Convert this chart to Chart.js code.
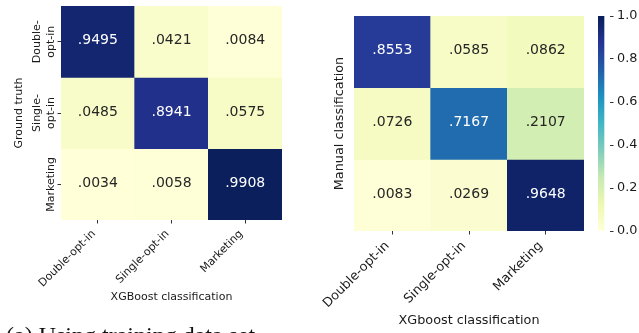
<!DOCTYPE html>
<html>
<head>
<meta charset="utf-8">
<title>Confusion matrices</title>
<script src="https://cdn.jsdelivr.net/npm/chart.js@4.4.1/dist/chart.umd.min.js"></script>
<style>
  html, body { margin: 0; padding: 0; background: #fff; width: 639px; height: 333px; overflow: hidden; }
  canvas { position: absolute; left: 0; top: 0; }
  #caption {
    position: absolute; left: 6px; top: 322.5px;
    font-family: "Liberation Serif", serif; font-size: 24px; line-height: 24px;
    color: #111; white-space: nowrap;
  }
</style>
</head>
<body>
<canvas id="truthChart" width="639" height="333"></canvas>
<canvas id="manualChart" width="639" height="333"></canvas>
<canvas id="colorbar" width="639" height="333"></canvas>
<div id="caption">(a) Using training data set</div>

<script>
// Class names (columns = XGBoost prediction, rows = reference labels)
const classes = ['Double-opt-in', 'Single-opt-in', 'Marketing'];
const rowTickLabels = [['Double-', 'opt-in'], ['Single-', 'opt-in'], ['', 'Marketing']];

// Row-normalised confusion matrices
const xgbVsTruth = [
  [0.9495, 0.0421, 0.0084],
  [0.0485, 0.8941, 0.0575],
  [0.0034, 0.0058, 0.9908]
];
const xgbVsManual = [
  [0.8553, 0.0585, 0.0862],
  [0.0726, 0.7167, 0.2107],
  [0.0083, 0.0269, 0.9648]
];

// Shared colour scale
const colorRange = [0, 1];
const colorbarTicks = [0, 0.2, 0.4, 0.6, 0.8, 1.0];
const YLGNBU = ['#ffffd9', '#edf8b1', '#c7e9b4', '#7fcdbb', '#41b6c4',
                '#1d91c0', '#225ea8', '#253494', '#081d58'];

const FONT = "'DejaVu Sans', sans-serif";
const INK = '#1a1a1a';
const TICK = '#333333';
Chart.defaults.font.family = FONT;
Chart.defaults.color = INK;

function hexToRgb(h) {
  const n = parseInt(h.slice(1), 16);
  return [(n >> 16) & 255, (n >> 8) & 255, n & 255];
}
const STOPS = YLGNBU.map(hexToRgb);

function cmapRgb(v) {
  let t = (v - colorRange[0]) / (colorRange[1] - colorRange[0]);
  t = Math.min(1, Math.max(0, t)) * (STOPS.length - 1);
  const i = Math.min(STOPS.length - 2, Math.floor(t));
  const f = t - i;
  return STOPS[i].map((c, k) => Math.round(c + (STOPS[i + 1][k] - c) * f));
}
function cmap(v) {
  const [r, g, b] = cmapRgb(v);
  return `rgb(${r},${g},${b})`;
}
// dark text on light cells, white text on dark cells
function annotColor(v) {
  const lin = cmapRgb(v).map(c => {
    c /= 255;
    return c <= 0.03928 ? c / 12.92 : Math.pow((c + 0.055) / 1.055, 2.4);
  });
  const lum = 0.2126 * lin[0] + 0.7152 * lin[1] + 0.0722 * lin[2];
  return lum > 0.408 ? '#262626' : '#ffffff';
}
function fmt(v) {
  return v.toFixed(4).replace(/^0/, '');
}

// Writes each cell's value in the middle of its rectangle
const cellLabels = {
  id: 'cellLabels',
  afterDatasetsDraw(chart, args, opts) {
    const ctx = chart.ctx;
    chart.data.datasets.forEach((ds, i) => {
      const meta = chart.getDatasetMeta(i);
      meta.data.forEach((el, j) => {
        const v = ds.values[j];
        const p = el.getCenterPoint();
        ctx.save();
        ctx.font = `${opts.size}px ${FONT}`;
        ctx.fillStyle = annotColor(v);
        ctx.textAlign = 'center';
        ctx.textBaseline = 'middle';
        ctx.fillText(fmt(v), p.x, p.y - 1);
        ctx.restore();
      });
    });
  }
};

function zeroScalePadding(s) {
  s.paddingLeft = 0; s.paddingRight = 0; s.paddingTop = 0; s.paddingBottom = 0;
}

function heatmap(id, matrix, cfg) {
  const datasets = matrix.map((row, r) => ({
    label: 'row ' + r,
    data: row.map(() => [r, r + 1]),
    values: row,
    backgroundColor: row.map(cmap),
    borderWidth: 0,
    barPercentage: 1,
    categoryPercentage: 1
  }));
  return new Chart(document.getElementById(id), {
    type: 'bar',
    data: { labels: classes, datasets },
    plugins: [cellLabels],
    options: {
      responsive: false,
      animation: false,
      devicePixelRatio: 1,
      layout: { padding: cfg.padding },
      plugins: {
        legend: { display: false },
        tooltip: { enabled: false },
        cellLabels: { size: 14 }
      },
      scales: {
        x: {
          stacked: true,
          offset: true,
          grid: { offset: false, drawOnChartArea: false, tickLength: 3.5, color: TICK, tickWidth: 1 },
          border: { display: false },
          ticks: {
            autoSkip: false, minRotation: 45, maxRotation: 45,
            padding: 4, labelOffset: cfg.xLabelOffset,
            font: { size: cfg.fontSize }, color: INK
          },
          title: {
            display: true, text: cfg.xTitle, color: INK,
            font: { size: cfg.fontSize }, padding: { top: 0, bottom: cfg.xTitlePad }
          },
          afterFit(s) { s.height = cfg.xHeight; zeroScalePadding(s); }
        },
        y: {
          type: 'linear',
          min: 0, max: matrix.length, reverse: true,
          afterBuildTicks(s) { s.ticks = matrix.map((_, r) => ({ value: r + 0.5 })); },
          grid: {
            display: cfg.yTicks, drawOnChartArea: false, tickLength: 3.5, color: TICK, tickWidth: 1
          },
          border: { display: false },
          ticks: {
            display: cfg.yTicks,
            minRotation: 90, maxRotation: 90,
            crossAlign: 'center',
            padding: cfg.yTickPad,
            font: { size: cfg.fontSize, lineHeight: 1.22 }, color: INK,
            callback: v => rowTickLabels[Math.floor(v)]
          },
          title: {
            display: true, text: cfg.yTitle, color: INK,
            font: { size: cfg.fontSize }, padding: { top: cfg.yTitlePad, bottom: 0 }
          },
          afterFit(s) { s.width = cfg.yWidth; zeroScalePadding(s); }
        }
      }
    }
  });
}

// XGBoost vs ground truth
heatmap('truthChart', xgbVsTruth, {
  padding: { left: 0, top: 6, right: 357, bottom: 0 },
  yWidth: 61, xHeight: 113,
  fontSize: 11,
  xTitle: 'XGBoost classification', xTitlePad: 29.4,
  yTitle: 'Ground truth', yTitlePad: 12.9,
  yTicks: true, yTickPad: -14.2,
  xLabelOffset: -4
});

// XGBoost vs manual labelling
heatmap('manualChart', xgbVsManual, {
  padding: { left: 320, top: 16, right: 55, bottom: 0 },
  yWidth: 34, xHeight: 102,
  fontSize: 12.8,
  xTitle: 'XGboost classification', xTitlePad: 4.3,
  yTitle: 'Manual classification', yTitlePad: 12.3,
  yTicks: false, yTickPad: 0,
  xLabelOffset: -5
});

// Colour bar for the value scale
new Chart(document.getElementById('colorbar'), {
  type: 'bar',
  data: {
    labels: ['scale'],
    datasets: [{
      data: [colorRange.slice()],
      borderWidth: 0,
      barPercentage: 1,
      categoryPercentage: 1,
      backgroundColor(ctx) {
        const chart = ctx.chart;
        const ys = chart.scales.y;
        if (!chart.chartArea || !ys) return YLGNBU[0];
        const g = chart.ctx.createLinearGradient(
          0, ys.getPixelForValue(colorRange[0]), 0, ys.getPixelForValue(colorRange[1]));
        YLGNBU.forEach((c, i) => g.addColorStop(i / (YLGNBU.length - 1), c));
        return g;
      }
    }]
  },
  options: {
    responsive: false,
    animation: false,
    devicePixelRatio: 1,
    layout: { padding: { left: 598, top: 16, right: 0, bottom: 102 } },
    plugins: { legend: { display: false }, tooltip: { enabled: false } },
    scales: {
      x: { display: false, offset: false },
      y: {
        position: 'right',
        min: colorRange[0], max: colorRange[1],
        afterBuildTicks(s) { s.ticks = colorbarTicks.map(v => ({ value: v })); },
        grid: { drawOnChartArea: false, tickLength: 3.5, color: TICK, tickWidth: 1 },
        border: { display: false },
        ticks: {
          padding: 3.5, font: { size: 12.8 }, color: INK,
          callback: v => v.toFixed(1)
        },
        afterFit(s) { s.width = 29; zeroScalePadding(s); }
      }
    }
  }
});
</script>
</body>
</html>
